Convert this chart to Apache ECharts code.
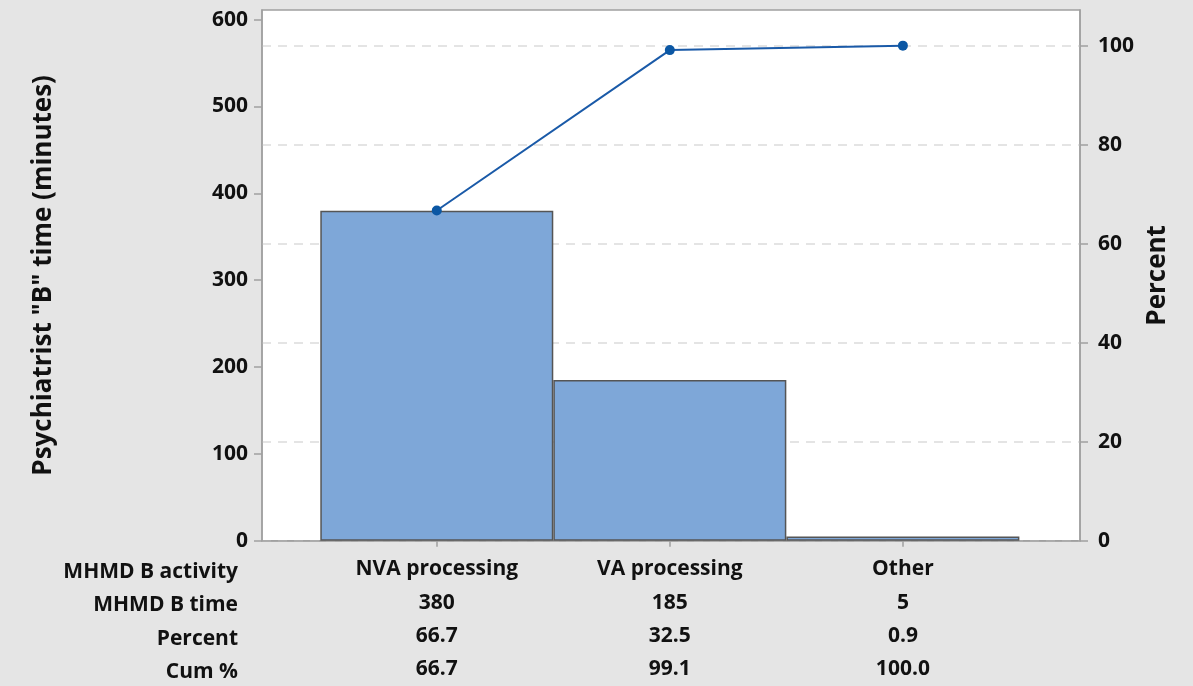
<!DOCTYPE html>
<html>
<head>
<meta charset="utf-8">
<script src="https://cdn.jsdelivr.net/npm/echarts@6/dist/echarts.min.js"></script>
<style>
  html, body { margin: 0; padding: 0; background: #e5e5e5; }
  #chart { width: 1193px; height: 686px; }
</style>
</head>
<body>
<div id="chart"></div>
<script>
// data
var activities = ['NVA processing', 'VA processing', 'Other'];
var times = [380, 185, 5];
var percents = ['66.7', '32.5', '0.9'];
var cumPercents = [66.7, 99.1, 100.0];
var rowLabels = ['MHMD B activity', 'MHMD B time', 'Percent', 'Cum %'];
var leftTicks = [0, 100, 200, 300, 400, 500, 600];
var rightTicks = [0, 20, 40, 60, 80, 100];

(function(){
	var font = "'Open Sans', sans-serif";
	var chart = echarts.init(document.getElementById('chart'));

	var barData = times.map(function(v, i){ return [i, v]; });
	var lineData = cumPercents.map(function(v, i){ return [i, v]; });

	var option = {
		backgroundColor: '#e5e5e5',
		animation: false,
		textStyle: { fontFamily: font },
		grid: {
			left: 262,
			right: 113,
			top: 10,
			bottom: 142,
			show: true,
			backgroundColor: '#ffffff',
			borderColor: '#a0a0a0',
			borderWidth: 1.5
		},
		xAxis: {
			type: 'value',
			min: -0.75,
			max: 2.76,
			splitLine: { show: false },
			axisLine: { onZero: false, lineStyle: { color: '#a0a0a0', width: 1.5 } },
			axisTick: {
				show: true,
				customValues: [0, 1, 2],
				length: 6,
				lineStyle: { color: '#a0a0a0', width: 1.5 }
			},
			axisLabel: {
				customValues: [0, 1, 2],
				margin: 12,
				color: '#111',
				fontSize: 21,
				fontWeight: 'bold',
				lineHeight: 33.3,
				align: 'center',
				formatter: function(value){
					var i = Math.round(value);
					return [activities[i], times[i], percents[i], cumPercents[i].toFixed(1)].join('\n');
				}
			}
		},
		yAxis: [{
			type: 'value',
			min: 0,
			max: 611,
			name: 'Psychiatrist "B" time (minutes)',
			nameLocation: 'middle',
			nameGap: 205,
			nameTextStyle: { fontSize: 26, fontWeight: 'bold', color: '#111' },
			splitLine: { show: false },
			axisLine: { show: true, onZero: false, lineStyle: { color: '#a0a0a0', width: 1.5 } },
			axisTick: {
				show: true,
				customValues: leftTicks,
				length: 8,
				lineStyle: { color: '#a0a0a0', width: 1.5 }
			},
			axisLabel: {
				customValues: leftTicks,
				margin: 14,
				fontSize: 21,
				fontWeight: 'bold',
				color: '#111'
			}
		}, {
			type: 'value',
			min: 0,
			max: 107.2,
			position: 'right',
			name: 'Percent',
			nameLocation: 'middle',
			nameGap: 62,
			nameTextStyle: { fontSize: 26, fontWeight: 'bold', color: '#111' },
			splitLine: {
				show: true,
				lineStyle: { type: [9, 7], color: '#dcdcdc', width: 1.5 }
			},
			axisLine: { show: true, onZero: false, lineStyle: { color: '#a0a0a0', width: 1.5 } },
			axisTick: {
				show: true,
				customValues: rightTicks,
				length: 8,
				lineStyle: { color: '#a0a0a0', width: 1.5 }
			},
			axisLabel: {
				customValues: rightTicks,
				margin: 18,
				fontSize: 21,
				fontWeight: 'bold',
				color: '#111'
			}
		}],
		graphic: rowLabels.map(function(t, i){
			return {
				type: 'text',
				right: 1193 - 238,
				top: 561.5 + i * 33.3,
				style: {
					text: t,
					font: 'bold 21px ' + font,
					fill: '#111',
					textAlign: 'right'
				}
			};
		}),
		series: [{
			name: 'time',
			type: 'bar',
			yAxisIndex: 0,
			data: barData,
			barWidth: 233,
			z: 3,
			itemStyle: {
				color: '#7ea7d8',
				borderColor: '#555555',
				borderWidth: 1.5
			}
		}, {
			name: 'cum',
			type: 'line',
			yAxisIndex: 1,
			data: lineData,
			z: 5,
			symbol: 'circle',
			symbolSize: 10,
			lineStyle: { color: '#1a5aa8', width: 2 },
			itemStyle: { color: '#0b57a4' }
		}]
	};

	chart.setOption(option);
})();
</script>
</body>
</html>
